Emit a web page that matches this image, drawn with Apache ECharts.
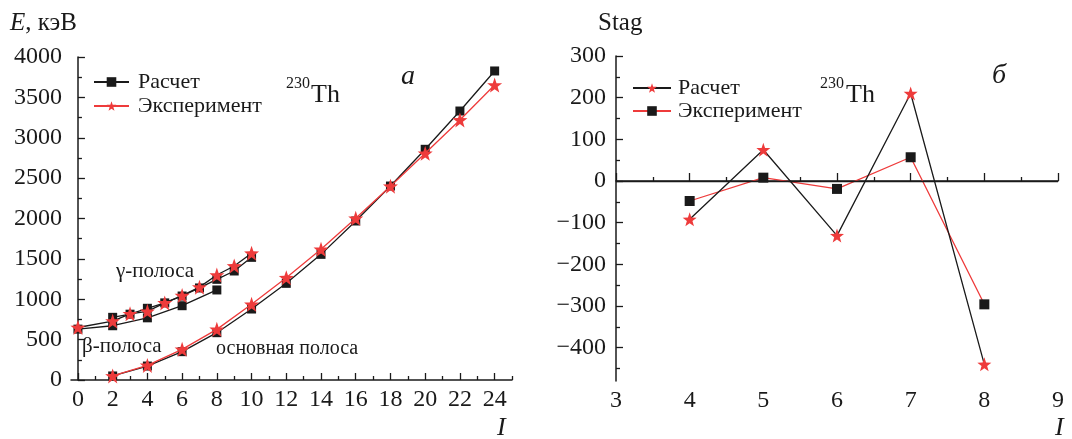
<!DOCTYPE html>
<html>
<head>
<meta charset="utf-8">
<script src="https://cdn.jsdelivr.net/npm/echarts@6/dist/echarts.min.js"></script>
<style>
  body { margin: 0; background: #fff; }
  #energy { position: absolute; left: 0; top: 0; width: 536px; height: 439px; }
  #stag { position: absolute; left: 536px; top: 0; width: 536px; height: 439px; }
</style>
</head>
<body>
<div id="energy"></div>
<div id="stag"></div>
<script>
// панель а: энергии уровней 230Th
var groundI = [2, 4, 6, 8, 10, 12, 14, 16, 18, 20, 22, 24];
var groundCalc = [50, 173, 351, 586, 879, 1197, 1556, 1969, 2402, 2857, 3331, 3827];
var groundExp = [50, 181, 380, 627, 937, 1267, 1618, 2002, 2400, 2807, 3220, 3653];

var gammaI = [2, 3, 4, 5, 6, 7, 8, 9, 10];
var gammaCalc = [776, 815, 888, 955, 1040, 1140, 1247, 1350, 1519];

var betaI = [0, 2, 4, 6, 8];
var betaCalc = [630, 672, 770, 920, 1115];

var excitedExpI = [0, 2, 3, 4, 5, 6, 7, 8, 9, 10];
var excitedExp = [650, 730, 820, 850, 955, 1045, 1150, 1300, 1412, 1570];

// панель б: Stag
var stagI = [4, 5, 6, 7, 8];
var stagCalc = [-92, 75, -131, 210, -440];
var stagExp = [-48, 8, -19, 57, -296];

var leftXMajor = [0, 2, 4, 6, 8, 10, 12, 14, 16, 18, 20, 22, 24];
var leftXMinor = [1, 3, 5, 7, 9, 11, 13, 15, 17, 19, 21, 23, 25];
var rightYMajor = [-400, -300, -200, -100, 0, 100, 200, 300];
var rightYMinor = [-450, -350, -250, -150, -50, 50, 150, 250];

function pairs(xs, ys) {
    return xs.map(function (x, i) { return [x, ys[i]]; });
}

var serif = '"Liberation Serif", "Times New Roman", serif';
var black = '#1a1a1a';
var red = '#ee3b3b';
var star = 'path://M0,-10 L2.35,-3.24 L9.51,-3.09 L3.8,1.24 L5.88,8.09 L0,4 L-5.88,8.09 L-3.8,1.24 L-9.51,-3.09 L-2.35,-3.24 Z';

var axisLine = { show: true, lineStyle: { color: black, width: 1.5 } };
var labelStyle = { color: black, fontFamily: serif, fontSize: 24 };

function text(x, y, str, size, italic) {
    return {
        type: 'text', left: x, top: y,
        style: { text: str, fontFamily: serif, fontSize: size, fontStyle: italic ? 'italic' : 'normal', fill: black }
    };
}

var chartA = echarts.init(document.getElementById('energy'));

var optionA = {
    animation: false,
    backgroundColor: '#fff',
    grid: { left: 71, right: 24, top: 57, bottom: 59 },
    legend: {
        orient: 'vertical',
        left: 88,
        top: 66,
        itemWidth: 35,
        itemHeight: 12,
        itemGap: 2,
        data: ['Расчет', 'Эксперимент'],
        textStyle: { fontFamily: serif, fontSize: 22, color: black, padding: [0, 0, 0, 4] }
    },
    xAxis: [
        {
            type: 'value', min: -0.4, max: 25,
            axisLine: axisLine,
            splitLine: { show: false },
            axisTick: { inside: true, length: 7, customValues: leftXMajor, lineStyle: { color: black, width: 1.3 } },
            axisLabel: Object.assign({ customValues: leftXMajor, margin: 8 }, labelStyle)
        },
        {
            type: 'value', min: -0.4, max: 25, position: 'bottom',
            axisLine: { show: false },
            splitLine: { show: false },
            axisTick: { inside: true, length: 4, customValues: leftXMinor, lineStyle: { color: black, width: 1.3 } },
            axisLabel: { show: false }
        }
    ],
    yAxis: {
        type: 'value', min: 0, max: 4000, interval: 500,
        axisLine: axisLine,
        splitLine: { show: false },
        axisTick: { inside: true, length: 7, lineStyle: { color: black, width: 1.3 } },
        minorTick: { show: true, splitNumber: 2, length: 4, lineStyle: { color: black, width: 1.3 } },
        axisLabel: Object.assign({ margin: 9, formatter: function (v) { return String(v); } }, labelStyle)
    },
    series: [
        {
            name: 'Расчет', type: 'line', data: pairs(groundI, groundCalc),
            symbol: 'rect', symbolSize: 9,
            lineStyle: { color: black, width: 1.3 }, itemStyle: { color: black }, z: 2
        },
        {
            name: 'Эксперимент', type: 'line', data: pairs(groundI, groundExp),
            symbol: star, symbolSize: 15,
            lineStyle: { color: red, width: 1.3 }, itemStyle: { color: red }, z: 3
        },
        {
            name: 'Расчет', type: 'line', data: pairs(gammaI, gammaCalc),
            symbol: 'rect', symbolSize: 9,
            lineStyle: { color: black, width: 1.3 }, itemStyle: { color: black }, z: 2
        },
        {
            name: 'Расчет', type: 'line', data: pairs(betaI, betaCalc),
            symbol: 'rect', symbolSize: 9,
            lineStyle: { color: black, width: 1.3 }, itemStyle: { color: black }, z: 2
        },
        {
            name: 'Эксперимент', type: 'line', data: pairs(excitedExpI, excitedExp),
            symbol: star, symbolSize: 15,
            lineStyle: { color: black, width: 1.3 }, itemStyle: { color: red }, z: 3
        }
    ],
    graphic: [
        {
            type: 'text', left: 10, top: 11,
            style: {
                text: '{i|E}, кэВ', fontFamily: serif, fontSize: 25, fill: black,
                rich: { i: { fontFamily: serif, fontSize: 25, fontStyle: 'italic', fill: black } }
            }
        },
        text(286, 76, '230', 16),
        text(311, 82, 'Th', 26),
        text(401, 63, 'а', 28, true),
        text(116, 261, 'γ-полоса', 21),
        text(82, 336, 'β-полоса', 21),
        text(216, 339, 'основная полоса', 20),
        text(497, 415, 'I', 26, true)
    ]
};
chartA.setOption(optionA, true);

var chartB = echarts.init(document.getElementById('stag'));

var optionB = {
    animation: false,
    backgroundColor: '#fff',
    grid: { left: 80, right: 14, top: 56, bottom: 58 },
    legend: {
        orient: 'vertical',
        left: 91,
        top: 72,
        itemWidth: 38,
        itemHeight: 12,
        itemGap: 1,
        data: ['Расчет', 'Эксперимент'],
        textStyle: { fontFamily: serif, fontSize: 22, color: black, padding: [0, 0, 0, 2] }
    },
    xAxis: {
        type: 'value', min: 3, max: 9, interval: 1,
        axisLine: axisLine,
        splitLine: { show: false },
        axisTick: { inside: true, length: 8, lineStyle: { color: black, width: 1.3 } },
        minorTick: { show: true, splitNumber: 2, length: 4, lineStyle: { color: black, width: 1.3 } },
        axisLabel: Object.assign({ margin: 8 }, labelStyle)
    },
    yAxis: [
        {
            type: 'value', min: -480, max: 300,
            axisLine: axisLine,
            splitLine: { show: false },
            axisTick: { inside: true, length: 7, customValues: rightYMajor, lineStyle: { color: black, width: 1.3 } },
            axisLabel: Object.assign({
                customValues: rightYMajor, margin: 10,
                formatter: function (v) { return String(v).replace('-', '−'); }
            }, labelStyle)
        },
        {
            type: 'value', min: -480, max: 300, position: 'left',
            axisLine: { show: false },
            splitLine: { show: false },
            axisTick: { inside: true, length: 4, customValues: rightYMinor, lineStyle: { color: black, width: 1.3 } },
            axisLabel: { show: false }
        }
    ],
    series: [
        {
            name: 'Расчет', type: 'line', data: pairs(stagI, stagCalc),
            symbol: star, symbolSize: 14,
            lineStyle: { color: black, width: 1.3 }, itemStyle: { color: red }, z: 3,
            markLine: {
                silent: true, symbol: 'none', label: { show: false },
                lineStyle: { color: black, width: 1.3, type: 'solid' },
                data: [{ yAxis: 0 }]
            }
        },
        {
            name: 'Эксперимент', type: 'line', data: pairs(stagI, stagExp),
            symbol: 'rect', symbolSize: 10,
            lineStyle: { color: red, width: 1.3 }, itemStyle: { color: black }, z: 2
        }
    ],
    graphic: [
        text(62, 11, 'Stag', 25),
        text(284, 76, '230', 16),
        text(310, 82, 'Th', 26),
        text(456, 62, 'б', 28, true),
        text(519, 415, 'I', 26, true)
    ]
};
chartB.setOption(optionB, true);
</script>
</body>
</html>
